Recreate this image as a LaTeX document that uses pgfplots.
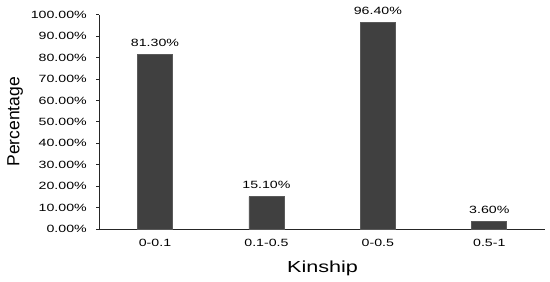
\documentclass[border=0pt]{standalone}
\usepackage{fontspec}
\setmainfont{Liberation Sans}
\newfontfamily\wide{Liberation Sans}[FakeStretch=1.35]
\usepackage{pgfplots}
\pgfplotsset{compat=1.18}
\usetikzlibrary{calc}
\definecolor{barfill}{HTML}{404040}
\definecolor{baredge}{HTML}{5A5A5A}
\begin{document}
\begin{tikzpicture}
\begin{axis}[
    name=ax,
    scale only axis,
    width=445.7pt, height=214.3pt,
    ybar, bar width=35pt,
    xmin=-0.5, xmax=3.5,
    ymin=0, ymax=100,
    axis lines*=left,
    axis line style={black!85, line width=1pt},
    xtick=data,
    xticklabels={0-0.1,0.1-0.5,0-0.5,0.5-1},
    xtick style={draw=none},
    ytick={0,10,...,100},
    ytick style={black!85, line width=0.8pt},
    tick align=outside,
    major tick length=3pt,
    /pgf/number format/assume math mode=true,
    yticklabel={\pgfmathprintnumber[fixed,fixed zerofill,precision=2]{\tick}\%},
    ticklabel style={font=\wide\fontsize{10.5}{12}\selectfont},
    yticklabel style={xshift=-6pt},
    xticklabel style={yshift=-4pt},
    ylabel={Percentage},
    ylabel style={font=\fontsize{17.5}{20}\selectfont, at={(axis description cs:-0.189,0.5)}, anchor=center},
    xlabel={Kinship},
    xlabel style={font=\wide\fontsize{16}{18}\selectfont, at={(axis description cs:0.501,-0.2007)}, anchor=base},
    nodes near coords={\pgfmathprintnumber[fixed,fixed zerofill,precision=2]{\pgfplotspointmeta}\%},
    nodes near coords style={font=\wide\fontsize{10.5}{12}\selectfont, anchor=base, yshift=8pt},
]
\addplot[fill=barfill, draw=baredge, line width=0.8pt] coordinates {(0,81.3) (1,15.1) (2,96.4) (3,3.6)};
\end{axis}
\pgfresetboundingbox
\path[use as bounding box] ($(ax.south west)+(-99.3pt,-52pt)$) rectangle ($(ax.north east)+(5pt,14.7pt)$);
\end{tikzpicture}
\end{document}
